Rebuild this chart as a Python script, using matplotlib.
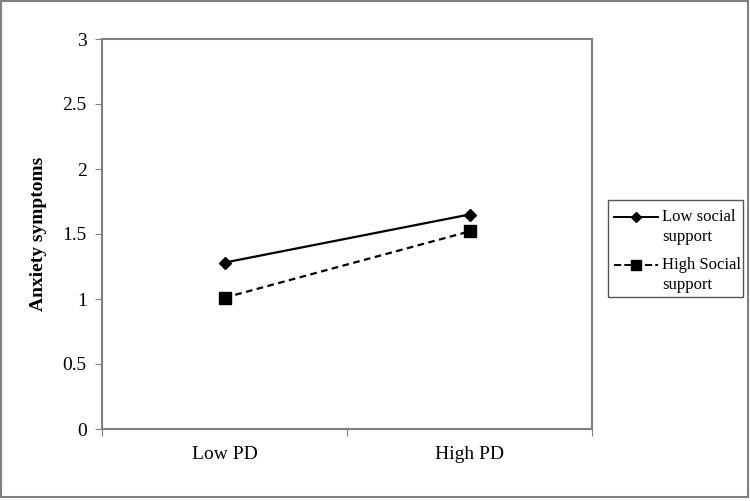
import matplotlib.pyplot as plt
from matplotlib.patches import Rectangle
from matplotlib.lines import Line2D

categories = ['Low PD', 'High PD']
low_support = [1.28, 1.65]
high_support = [1.01, 1.52]
series_labels = [['Low social', 'support'], ['High Social', 'support']]

plt.rcParams['font.family'] = ['Liberation Serif', 'DejaVu Serif']

fig = plt.figure(figsize=(7.5, 5.01), dpi=100)
W, H = 750, 501
ax = fig.add_axes([102 / W, 1 - 429 / H, (592 - 102) / W, (429 - 39) / H])

x = range(len(categories))
l1, = ax.plot(x, low_support, color='black', lw=1.6, marker='D', ms=6)
l2, = ax.plot(x, high_support, color='black', lw=1.6, ls=(0, (3, 2)), marker='s', ms=8)

ax.set_xlim(-0.5, 1.5)
ax.set_ylim(0, 3)
ax.set_yticks([0, 0.5, 1, 1.5, 2, 2.5, 3])
ax.set_yticklabels(['0', '0.5', '1', '1.5', '2', '2.5', '3'])
ax.set_xticks([-0.5, 0.5, 1.5])
ax.set_xticklabels([])
ax.set_xticks([0, 1], minor=True)
ax.set_xticklabels(categories, minor=True)
ax.tick_params(axis='x', which='minor', length=0, pad=12, labelsize=14)
ax.tick_params(axis='x', which='major', length=5, color='#808080')
ax.tick_params(axis='y', length=5, color='#808080', labelsize=14, pad=6)

for s in ax.spines.values():
    s.set_color('#808080')
    s.set_linewidth(1.5)

ax.set_ylabel('Anxiety symptoms', fontsize=14, fontweight='bold', labelpad=11)

# legend drawn by hand so the handle sits on the first text line
fig.patches.append(Rectangle((608 / W, 1 - 297 / H), 135 / W, 97 / H, transform=fig.transFigure,
                             fill=False, edgecolor='#555555', lw=1.0))
for line, (t1, t2), yc in [(l1, series_labels[0], 217), (l2, series_labels[1], 265)]:
    fy = 1 - yc / H
    fig.add_artist(Line2D([614 / W, 658 / W], [fy, fy], transform=fig.transFigure,
                          color='black', lw=1.4, ls=line.get_linestyle()))
    fig.add_artist(Line2D([636 / W], [fy], transform=fig.transFigure, color='black',
                          marker=line.get_marker(), ms=line.get_markersize() - 1))
    fig.text(662 / W, fy, t1, fontsize=12, va='center', ha='left')
    fig.text(662 / W, 1 - (yc + 20) / H, t2, fontsize=12, va='center', ha='left')

fig.patches.append(Rectangle((1 / W, 4 / H), 747 / W, 496 / H, transform=fig.transFigure,
                             fill=False, edgecolor='#808080', lw=1.5))

fig.savefig('out.png', dpi=100)
